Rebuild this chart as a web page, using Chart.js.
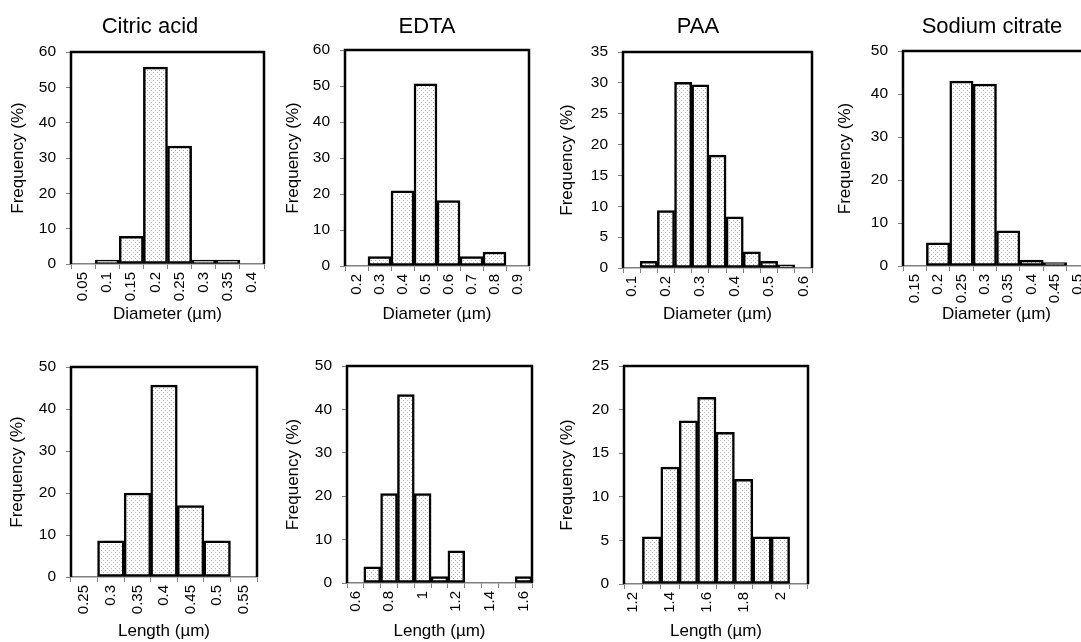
<!DOCTYPE html>
<html>
<head>
<meta charset="utf-8">
<script src="https://cdn.jsdelivr.net/npm/chart.js@4.4.1/dist/chart.umd.min.js"></script>
<style>
  html, body { margin: 0; padding: 0; background: #fff; overflow: hidden; }
  #wrap { position: relative; width: 1081px; height: 642px; overflow: hidden; }
  #wrap canvas { position: absolute; }
</style>
</head>
<body>
<div id="wrap"></div>
<script>
// bin labels and frequency (%)
const citricDiamBins = ['0.05', '0.1', '0.15', '0.2', '0.25', '0.3', '0.35', '0.4'];
const citricDiamFreq = [0, 1.1, 7.8, 55.7, 33.4, 1.1, 1.1, 0];

const edtaDiamBins = ['0.2', '0.3', '0.4', '0.5', '0.6', '0.7', '0.8', '0.9'];
const edtaDiamFreq = [0, 2.6, 20.9, 50.6, 18.2, 2.6, 3.9, 0];

const paaDiamBins = ['0.1', '0.15', '0.2', '0.25', '0.3', '0.35', '0.4', '0.45', '0.5', '0.55', '0.6'];
const paaDiamFreq = [0, 1.1, 9.3, 30.1, 29.7, 18.3, 8.3, 2.6, 1.1, 0.5, 0];

const citrateDiamBins = ['0.15', '0.2', '0.25', '0.3', '0.35', '0.4', '0.45', '0.5'];
const citrateDiamFreq = [0, 5.4, 43, 42.3, 8.2, 1.4, 0.8, 0];

const citricLenBins = ['0.25', '0.3', '0.35', '0.4', '0.45', '0.5', '0.55'];
const citricLenFreq = [0, 8.6, 20, 45.7, 17, 8.6, 0];

const edtaLenBins = ['0.6', '0.7', '0.8', '0.9', '1', '1.1', '1.2', '1.3', '1.4', '1.5', '1.6'];
const edtaLenFreq = [0, 3.7, 20.6, 43.4, 20.6, 1.5, 7.4, 0, 0, 0, 1.5];

const paaLenBins = ['1.2', '1.3', '1.4', '1.5', '1.6', '1.7', '1.8', '1.9', '2', '2.1'];
const paaLenFreq = [0, 5.4, 13.4, 18.7, 21.4, 17.4, 12, 5.4, 5.4, 0];

const panels = [
  { heading: 'Citric acid', bins: citricDiamBins, freq: citricDiamFreq, yMax: 60, yStep: 10, xTitle: 'Diameter (µm)', skip: 1 },
  { heading: 'EDTA', bins: edtaDiamBins, freq: edtaDiamFreq, yMax: 60, yStep: 10, xTitle: 'Diameter (µm)', skip: 1 },
  { heading: 'PAA', bins: paaDiamBins, freq: paaDiamFreq, yMax: 35, yStep: 5, xTitle: 'Diameter (µm)', skip: 2 },
  { heading: 'Sodium citrate', bins: citrateDiamBins, freq: citrateDiamFreq, yMax: 50, yStep: 10, xTitle: 'Diameter (µm)', skip: 1 },
  { heading: '', bins: citricLenBins, freq: citricLenFreq, yMax: 50, yStep: 10, xTitle: 'Length (µm)', skip: 1 },
  { heading: '', bins: edtaLenBins, freq: edtaLenFreq, yMax: 50, yStep: 10, xTitle: 'Length (µm)', skip: 2 },
  { heading: '', bins: paaLenBins, freq: paaLenFreq, yMax: 25, yStep: 5, xTitle: 'Length (µm)', skip: 2 }
];

// page layout: plot box [left, top, right, bottom], heading centre, axis title centres
const boxes = [
  { plot: [71, 52, 264, 264], headX: 150, yTitleX: 18, xTitleY: 314 },
  { plot: [345, 50, 529, 266], headX: 427, yTitleX: 293, xTitleY: 314 },
  { plot: [623, 52, 812, 268], headX: 698, yTitleX: 567, xTitleY: 314 },
  { plot: [903, 51, 1090, 266], headX: 992, yTitleX: 845, xTitleY: 314 },
  { plot: [71, 367, 257, 577], headX: 0, yTitleX: 17, xTitleY: 631 },
  { plot: [347, 366, 532, 583], headX: 0, yTitleX: 293, xTitleY: 631 },
  { plot: [624, 366, 808, 584], headX: 0, yTitleX: 567, xTitleY: 631 }
];

const FONT = '"Liberation Sans", Arial, sans-serif';
Chart.defaults.font.family = FONT;
Chart.defaults.color = '#000';

const Y_AXIS_W = 70;
const RIGHT_PAD = 10;
const AXIS_TITLE_SIZE = 17;
const TITLE_LH = AXIS_TITLE_SIZE * 1.2;

function dotPattern() {
  const c = document.createElement('canvas');
  c.width = 4; c.height = 4;
  const g = c.getContext('2d');
  g.fillStyle = '#fff';
  g.fillRect(0, 0, 4, 4);
  g.fillStyle = '#b4b4b4';
  g.fillRect(0, 0, 1, 1);
  g.fillRect(2, 2, 1, 1);
  return g.createPattern(c, 'repeat');
}
const dots = dotPattern();

// black frame on top / left / right of the plot area
const framePlugin = {
  id: 'frame',
  afterDatasetsDraw(chart) {
    const { ctx, chartArea: a } = chart;
    ctx.save();
    ctx.strokeStyle = '#000';
    ctx.lineWidth = 2.5;
    ctx.beginPath();
    ctx.moveTo(a.left, a.bottom);
    ctx.lineTo(a.left, a.top);
    ctx.lineTo(a.right, a.top);
    ctx.lineTo(a.right, a.bottom);
    ctx.stroke();
    ctx.restore();
  }
};

// column heading above each top-row panel
const headingPlugin = {
  id: 'heading',
  afterDraw(chart, args, opts) {
    if (!opts.text) return;
    const ctx = chart.ctx;
    ctx.save();
    ctx.font = '22px ' + FONT;
    ctx.fillStyle = '#000';
    ctx.textAlign = 'center';
    ctx.textBaseline = 'alphabetic';
    ctx.fillText(opts.text, opts.x, opts.y);
    ctx.restore();
  }
};

const wrap = document.getElementById('wrap');

panels.forEach((p, i) => {
  const b = boxes[i];
  const [l, t, r, bot] = b.plot;
  const topRow = t < 300;
  const rowTop = topRow ? 0 : 330;
  const xAxisH = topRow ? 60 : 68;

  const left = l - Y_AXIS_W;
  const w = Y_AXIS_W + (r - l) + RIGHT_PAD;
  const h = (bot - rowTop) + xAxisH;

  const cv = document.createElement('canvas');
  cv.width = w; cv.height = h;
  cv.style.left = left + 'px';
  cv.style.top = rowTop + 'px';
  cv.style.width = w + 'px';
  cv.style.height = h + 'px';
  wrap.appendChild(cv);

  const yTitlePad = b.yTitleX - left - TITLE_LH / 2;
  const xTitlePad = (bot + xAxisH) - b.xTitleY - TITLE_LH / 2;

  new Chart(cv.getContext('2d'), {
    type: 'bar',
    data: {
      labels: p.bins,
      datasets: [{
        data: p.freq,
        backgroundColor: dots,
        borderColor: '#000',
        borderWidth: 2.5,
        borderSkipped: false,
        barPercentage: 1,
        categoryPercentage: 1
      }]
    },
    options: {
      responsive: false,
      animation: false,
      events: [],
      layout: { padding: { top: t - rowTop, right: RIGHT_PAD, bottom: 0, left: 0 } },
      plugins: {
        legend: { display: false },
        tooltip: { enabled: false },
        heading: { text: p.heading, x: b.headX - left, y: 33 }
      },
      scales: {
        x: {
          offset: true,
          grid: { offset: true, drawOnChartArea: false, tickLength: 5, color: '#808080' },
          border: { color: '#808080', width: 1.5 },
          ticks: {
            autoSkip: false,
            minRotation: 90,
            maxRotation: 90,
            padding: 3,
            font: { size: 15 },
            color: '#000',
            callback(v, idx) { return idx % p.skip ? '' : this.getLabelForValue(v); }
          },
          title: {
            display: true,
            text: p.xTitle,
            font: { size: AXIS_TITLE_SIZE },
            padding: { top: 0, bottom: xTitlePad }
          },
          afterFit(s) { s.height = xAxisH; s.paddingLeft = 0; s.paddingRight = 0; }
        },
        y: {
          min: 0,
          max: p.yMax,
          grid: { drawOnChartArea: false, tickLength: 5, color: '#808080' },
          border: { display: false },
          ticks: { stepSize: p.yStep, padding: 10, font: { size: 15.5 }, color: '#000' },
          title: {
            display: true,
            text: 'Frequency (%)',
            font: { size: AXIS_TITLE_SIZE },
            padding: { top: yTitlePad, bottom: 0 }
          },
          afterFit(s) { s.width = Y_AXIS_W; s.paddingTop = 0; s.paddingBottom = 0; }
        }
      }
    },
    plugins: [framePlugin, headingPlugin]
  });
});
</script>
</body>
</html>
